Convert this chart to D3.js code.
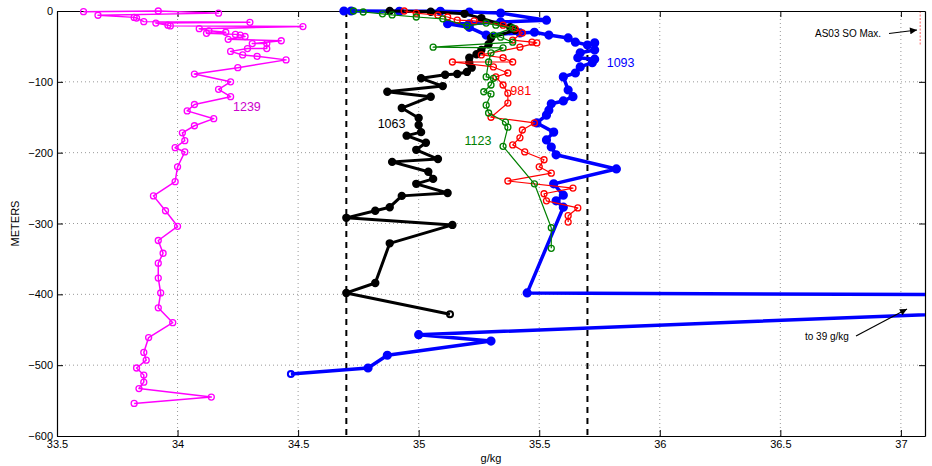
<!DOCTYPE html>
<html>
<head>
<meta charset="utf-8">
<script src="https://cdn.jsdelivr.net/npm/d3@7/dist/d3.min.js"></script>
<style>
  body { margin: 0; background: #fff; }
  svg { font-family: "Liberation Sans", Arial, sans-serif; }
  .tick text { font-size: 11px; fill: #000; }
  .domain { stroke: #000; stroke-width: 1.2; }
  .tick line { stroke: #000; }
  .grid line { stroke: #999; stroke-width: 1; stroke-dasharray: 1,3; }
</style>
</head>
<body>
<svg id="chart" width="932" height="466"></svg>
<script>
// salinity (g/kg) / depth (m) per profile
var sal1239 = [33.61,33.92,34.17,33.67,33.82,33.83,33.86,34.30,33.91,33.96,33.97,34.52,34.09,34.13,34.20,34.12,34.24,34.26,34.28,34.21,34.43,34.31,34.37,34.37,34.29,34.22,34.27,34.33,34.45,34.25,34.07,34.22,34.17,34.22,34.07,34.04,34.15,34.07,34.02,34.03,33.99,34.03,34.00,33.99,33.90,33.95,34.00,33.92,33.94,33.92,33.92,33.93,33.92,33.98,33.88,33.86,33.87,33.83,33.86,33.86,33.84,34.14,33.82];
var dep1239 = [-1,0,-3,-6,-9,-10,-15,-16,-17,-20,-21,-22,-25,-28,-30,-31.5,-33,-34,-36,-40,-42,-46,-46,-53,-53,-57,-62,-64,-69,-80,-89,-100,-110.6,-121,-132,-141,-152,-162,-172,-183,-193,-199,-220,-241,-261,-282,-304,-324,-342,-356,-377,-398,-419,-440,-461,-482,-493,-504,-514,-524,-533,-545,-554];

var sal1063 = [34.88,35.05,35.19,35.26,35.38,35.40,35.30,35.29,35.26,35.24,35.21,35.21,35.22,35.20,35.16,35.11,35.01,35.10,34.87,35.05,34.93,35.00,35.00,35.01,34.95,35.03,34.99,35.08,34.89,35.04,35.06,34.99,35.12,34.93,34.88,34.82,34.70,35.14,34.88,34.82,34.70,35.13];
var dep1063 = [0,-1,-4,-10,-23,-27,-38,-47,-55,-61,-66,-73,-80,-86,-89,-90,-95,-106,-114,-121,-137,-151,-161,-171,-176,-186,-196,-209,-213,-227,-237,-244,-257,-261,-277,-282,-292,-302,-328,-384,-398,-428];

var sal981 = [34.94,34.99,35.08,35.12,35.16,35.23,35.35,35.40,35.43,35.39,35.47,35.49,35.42,35.26,35.35,35.39,35.14,35.31,35.37,35.32,35.35,35.37,35.37,35.30,35.48,35.43,35.42,35.39,35.44,35.52,35.50,35.55,35.37,35.64,35.52,35.53,35.66,35.62,35.62];
var dep981 = [0,-3,-6,-8.5,-13,-14,-20,-25,-31,-41,-44,-45,-51,-62,-66,-72,-72,-79,-87.5,-93,-104.5,-116,-130,-150,-158,-168,-179,-189,-199,-210,-220,-229,-240,-250,-258,-268,-278,-289,-298];

var sal1123 = [34.73,34.77,34.85,34.89,34.99,35.10,35.20,35.28,35.32,35.39,35.31,35.34,35.39,35.06,35.35,35.30,35.29,35.28,35.31,35.30,35.27,35.30,35.28,35.29,35.36,35.37,35.35,35.48,35.55,35.55];
var dep1123 = [0,-1.4,-4,-5.6,-8.5,-11,-21,-17,-20,-24,-34,-37,-44,-51,-52,-59,-72,-93,-95,-104.5,-114,-117,-133,-144,-157,-164,-191,-244,-306,-335];

var sal1093 = [34.69,34.72,34.92,35.09,35.21,35.34,35.53,35.34,35.21,35.12,35.21,35.28,35.42,35.48,35.54,35.62,35.65,35.70,35.73,35.73,35.67,35.66,35.73,35.72,35.67,35.65,35.60,35.62,35.64,35.60,35.55,35.54,35.53,35.49,35.56,35.53,35.55,35.57,35.82,35.56,35.60,35.57,35.60,35.45,39.0,35.00,35.30,34.87,34.79,34.47];
var dep1093 = [0,0,-0.5,-0.5,-1.4,-3,-13,-15.5,-18,-18,-23,-34,-31,-30,-34,-38,-44,-48,-45,-55,-59,-66,-68,-73,-79,-87.5,-93,-111.5,-121,-127,-131,-140,-147,-158,-171,-182,-192,-203,-223,-244,-260,-268,-277,-398,-403,-457,-466,-486,-504,-512.5];

var xTicks = [33.5, 34, 34.5, 35, 35.5, 36, 36.5, 37];
var yTicks = [0, -100, -200, -300, -400, -500, -600];
var refLines = [34.7, 35.7];

var W = 932, H = 466;
var mLeft = 57, mRight = 925, mTop = 11, mBottom = 436;

var x = d3.scaleLinear().domain([33.5, 37.1]).range([mLeft, mRight]);
var y = d3.scaleLinear().domain([0, -600]).range([mTop, mBottom]);

var svg = d3.select("#chart");
var defs = svg.append("defs");

defs.append("clipPath").attr("id", "clip")
  .append("rect").attr("x", mLeft - 10).attr("y", mTop - 8)
  .attr("width", mRight - mLeft + 10).attr("height", mBottom - mTop + 8);

var arrow = defs.append("marker")
  .attr("id", "arrow").attr("viewBox", "0 0 10 10")
  .attr("refX", 10).attr("refY", 5)
  .attr("markerWidth", 9).attr("markerHeight", 7)
  .attr("markerUnits", "userSpaceOnUse")
  .attr("orient", "auto");
arrow.append("path").attr("d", "M0,0L10,5L0,10z").attr("fill", "#000");

// grid
var grid = svg.append("g").attr("class", "grid");
grid.selectAll(".gx").data(xTicks.filter(function(d){ return d > 33.5; }))
  .enter().append("line")
  .attr("x1", function(d){ return x(d); }).attr("x2", function(d){ return x(d); })
  .attr("y1", mTop).attr("y2", mBottom);
grid.selectAll(".gy").data(yTicks.filter(function(d){ return d < 0 && d > -600; }))
  .enter().append("line")
  .attr("x1", mLeft).attr("x2", mRight)
  .attr("y1", function(d){ return y(d); }).attr("y2", function(d){ return y(d); });

// reference dashed lines
svg.append("g").selectAll("line").data(refLines).enter().append("line")
  .attr("x1", function(d){ return x(d); }).attr("x2", function(d){ return x(d); })
  .attr("y1", mTop).attr("y2", mBottom)
  .attr("stroke", "#000").attr("stroke-width", 2).attr("stroke-dasharray", "6,5");

// AS03 SO max marker line
svg.append("line")
  .attr("x1", x(37.08)).attr("x2", x(37.08)).attr("y1", y(0)).attr("y2", y(-48))
  .attr("stroke", "#ff6666").attr("stroke-width", 1).attr("stroke-dasharray", "2,1.5");

// axes
var fmtY = function(d){ return d < 0 ? "\u2212" + (-d) : String(d); };
svg.append("g").attr("transform", "translate(0," + mBottom + ")")
  .call(d3.axisBottom(x).tickValues(xTicks).tickFormat(function(d){ return String(d); })
    .tickSizeInner(-6).tickSizeOuter(0).tickPadding(4));
svg.append("g").attr("transform", "translate(" + mLeft + ",0)")
  .call(d3.axisLeft(y).tickValues(yTicks).tickFormat(fmtY)
    .tickSizeInner(-6).tickSizeOuter(0).tickPadding(4));
svg.append("g").attr("transform", "translate(0," + mTop + ")")
  .call(d3.axisTop(x).tickValues(xTicks).tickFormat("")
    .tickSizeInner(-6).tickSizeOuter(0));
svg.append("g").attr("transform", "translate(" + mRight + ",0)")
  .call(d3.axisRight(y).tickValues(yTicks).tickFormat("")
    .tickSizeInner(-6).tickSizeOuter(0));

svg.append("text").attr("x", x(35.3)).attr("y", 462)
  .attr("text-anchor", "middle").attr("font-size", 11).text("g/kg");
svg.append("text").attr("transform", "translate(19," + y(-300) + ") rotate(-90)")
  .attr("text-anchor", "middle").attr("font-size", 11).text("METERS");

// profiles
var series = [
  { s: sal1093, d: dep1093, color: "#0000ff", lw: 3.5, r: 3.6, filled: true },
  { s: sal1063, d: dep1063, color: "#000000", lw: 3, r: 3.2, filled: true },
  { s: sal981, d: dep981, color: "#ff0000", lw: 1.2, r: 3, filled: false },
  { s: sal1123, d: dep1123, color: "#008000", lw: 1.2, r: 3, filled: false },
  { s: sal1239, d: dep1239, color: "#ff00ff", lw: 1.5, r: 3, filled: false }
];

var line = d3.line().x(function(p){ return x(p[0]); }).y(function(p){ return y(p[1]); });
var plot = svg.append("g").attr("clip-path", "url(#clip)");

series.forEach(function(sr){
  var pts = sr.s.map(function(v, i){ return [v, sr.d[i]]; });
  var g = plot.append("g");
  g.append("path").attr("d", line(pts))
    .attr("fill", "none").attr("stroke", sr.color)
    .attr("stroke-width", sr.lw).attr("stroke-linejoin", "round");
  g.selectAll("circle").data(pts).enter().append("circle")
    .attr("cx", function(p){ return x(p[0]); })
    .attr("cy", function(p){ return y(p[1]); })
    .attr("r", function(p, i){ return sr.filled && i === pts.length - 1 ? 3 : sr.r; })
    .attr("fill", function(p, i){ return sr.filled && i < pts.length - 1 ? sr.color : "#fff"; })
    .attr("fill-opacity", function(p, i){ return sr.filled && i < pts.length - 1 ? 1 : 0; })
    .attr("stroke", sr.color)
    .attr("stroke-width", function(p, i){ return sr.filled ? 2 : 1.3; });
});

// profile labels
var labels = [
  { t: "1239", s: 34.23, d: -140.5, c: "#cc00cc" },
  { t: "1063", s: 34.83, d: -165, c: "#000" },
  { t: "1123", s: 35.19, d: -188.5, c: "#008000" },
  { t: "981", s: 35.38, d: -118.6, c: "#ff0000" },
  { t: "1093", s: 35.78, d: -79, c: "#0000ff" }
];
svg.append("g").selectAll("text").data(labels).enter().append("text")
  .attr("x", function(d){ return x(d.s); }).attr("y", function(d){ return y(d.d); })
  .attr("font-size", 12.5).attr("fill", function(d){ return d.c; })
  .text(function(d){ return d.t; });

// annotations
svg.append("text").attr("x", 815).attr("y", 37).attr("font-size", 10).text("AS03 SO Max.");
svg.append("line").attr("x1", 889).attr("y1", 33.5).attr("x2", 917).attr("y2", 30)
  .attr("stroke", "#000").attr("stroke-width", 1.2).attr("marker-end", "url(#arrow)");
svg.append("text").attr("x", 805).attr("y", 339.5).attr("font-size", 10).text("to 39 g/kg");
svg.append("line").attr("x1", 856).attr("y1", 336).attr("x2", 907).attr("y2", 309)
  .attr("stroke", "#000").attr("stroke-width", 1.2).attr("marker-end", "url(#arrow)");
</script>
</body>
</html>
